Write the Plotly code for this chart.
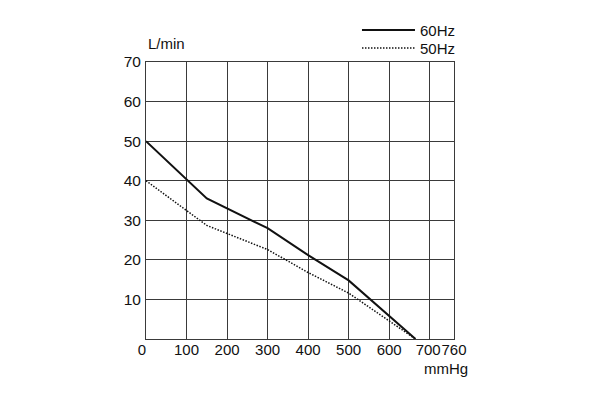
import plotly.graph_objects as go

pressure_60 = [0, 150, 300, 400, 500, 665]
flow_60 = [50, 35.5, 28, 21.2, 14.8, 0]
pressure_50 = [0, 150, 300, 400, 500, 665]
flow_50 = [40, 28.7, 22.6, 16.8, 11.6, 0]
x_ticks = [0, 100, 200, 300, 400, 500, 600, 700, 760]
x_tick_text = ["0\u00a0\u00a0", "100", "200", "300", "400", "500", "600",
               "700\u2009", "760"]
y_ticks = [10, 20, 30, 40, 50, 60, 70]

FONT = "Liberation Sans, Arial, sans-serif"
FS = 15
TFS = 15
fig = go.Figure()
fig.add_trace(go.Scatter(x=pressure_60, y=flow_60, mode="lines", name="60Hz",
                         line=dict(color="#111", width=2), legend="legend"))
fig.add_trace(go.Scatter(x=pressure_50, y=flow_50, mode="lines", name="50Hz",
                         line=dict(color="#111", width=1.5, dash="1.5px,1.5px"),
                         legend="legend2"))

leg_common = dict(xanchor="left", yanchor="middle", bgcolor="rgba(0,0,0,0)",
                  font=dict(size=FS, family=FONT, color="#111"), itemwidth=53,
                  borderwidth=0)
fig.update_layout(
    width=596, height=390,
    margin=dict(l=138, r=150, t=54, b=59, autoexpand=False),
    paper_bgcolor="white", plot_bgcolor="white",
    font=dict(family=FONT, size=FS, color="#111"),
    showlegend=True,
    legend=dict(x=0.685, y=1.115, **leg_common),
    legend2=dict(x=0.685, y=1.05, **leg_common),
    xaxis=dict(range=[0, 760], tickvals=x_ticks, ticktext=x_tick_text,
               tickangle=0, tickfont=dict(size=TFS), ticklabelstandoff=-3,
               showgrid=True, gridcolor="#3a3a3a", gridwidth=1,
               showline=True, linecolor="#3a3a3a", linewidth=1, mirror=True,
               ticks="", zeroline=False, fixedrange=True),
    yaxis=dict(range=[0, 70], tickvals=y_ticks, ticktext=[str(v) for v in y_ticks],
               tickfont=dict(size=15.5), ticklabelstandoff=1,
               showgrid=True, gridcolor="#3a3a3a", gridwidth=1,
               showline=True, linecolor="#3a3a3a", linewidth=1, mirror=True,
               ticks="", zeroline=False, fixedrange=True),
    annotations=[
        dict(text="L/min", xref="paper", yref="paper", x=0, y=1.065,
             xanchor="left", yanchor="middle", showarrow=False, font=dict(size=FS)),
        dict(text="mmHg", xref="paper", yref="paper", x=1.052, y=-0.108,
             xanchor="right", yanchor="middle", showarrow=False, font=dict(size=FS)),
    ],
)
fig.write_html("out.html")
